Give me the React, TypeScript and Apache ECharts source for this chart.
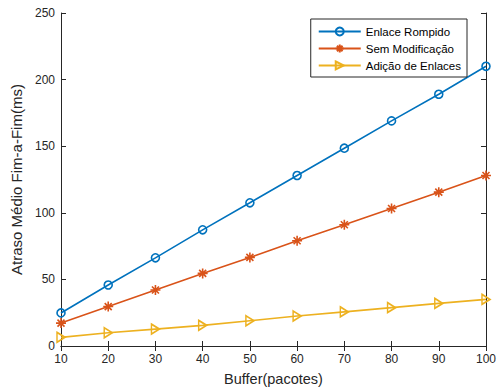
import React, { useEffect, useRef } from "react";
import * as echarts from "echarts";

const buffers = [10, 20, 30, 40, 50, 60, 70, 80, 90, 100];
const enlaceRompido = [24.8, 45.8, 66.2, 87.2, 107.5, 128, 148.5, 169, 189, 210];
const semModificacao = [17.2, 29.6, 42, 54.5, 66.5, 79, 91, 103.2, 115.5, 128];
const adicaoEnlaces = [6.5, 10, 12.7, 15.5, 19, 22.5, 25.6, 28.8, 32, 35];
const seriesNames = ["Enlace Rompido", "Sem Modificação", "Adição de Enlaces"];
const colors = ["#0072BD", "#D95319", "#EDB120"];

const FONT = "Liberation Sans";
const AXIS_COLOR = "#262626";

export default function App() {
  const ref = useRef<HTMLDivElement>(null);
  useEffect(() => {
    if (!ref.current) return;
    const chart = echarts.init(ref.current, undefined, { renderer: "svg" });
    const mkData = (arr: number[]) => buffers.map((b, i) => [b, arr[i]]);
    const asterisk =
      "path://M5,0 L5,10 M0,5 L10,5 M1.5,1.5 L8.5,8.5 M1.5,8.5 L8.5,1.5";
    const triangle = "path://M0,0 L8,5 L0,10 Z";
    const symbols = ["circle", asterisk, triangle];
    const sizes = [8, 10, [8, 10]];
    const datasets = [enlaceRompido, semModificacao, adicaoEnlaces];
    const tickCommon = {
      show: true,
      inside: true,
      length: 5,
      lineStyle: { color: AXIS_COLOR, width: 1 },
    };
    const axisLineCommon = { show: true, lineStyle: { color: AXIS_COLOR, width: 1 } };
    chart.setOption({
      animation: false,
      textStyle: { fontFamily: FONT },
      grid: { left: 61, right: 13, top: 13, bottom: 43, containLabel: false },
      legend: {
        data: seriesNames,
        right: 32,
        top: 19,
        orient: "vertical",
        itemWidth: 42,
        itemHeight: 10,
        itemGap: 4,
        padding: [6, 6, 5, 7],
        borderColor: AXIS_COLOR,
        borderWidth: 1,
        backgroundColor: "#fff",
        textStyle: { fontFamily: FONT, fontSize: 11.5, color: "#000" },
      },
      xAxis: [
        {
          type: "value",
          min: 10,
          max: 100,
          interval: 10,
          name: "Buffer(pacotes)",
          nameLocation: "middle",
          nameGap: 25,
          nameTextStyle: { fontFamily: FONT, fontSize: 14.5, color: AXIS_COLOR },
          axisLine: axisLineCommon,
          axisTick: tickCommon,
          axisLabel: { fontFamily: FONT, fontSize: 12, color: AXIS_COLOR, margin: 7 },
          splitLine: { show: false },
        },
        {
          type: "value",
          position: "top",
          min: 10,
          max: 100,
          interval: 10,
          axisLine: axisLineCommon,
          axisTick: tickCommon,
          axisLabel: { show: false },
          splitLine: { show: false },
        },
      ],
      yAxis: [
        {
          type: "value",
          min: 0,
          max: 250,
          interval: 50,
          name: "Atraso Médio Fim-a-Fim(ms)",
          nameLocation: "middle",
          nameGap: 31,
          nameTextStyle: { fontFamily: FONT, fontSize: 15, color: AXIS_COLOR },
          axisLine: axisLineCommon,
          axisTick: tickCommon,
          axisLabel: { fontFamily: FONT, fontSize: 12, color: AXIS_COLOR, margin: 6 },
          splitLine: { show: false },
        },
        {
          type: "value",
          position: "right",
          min: 0,
          max: 250,
          interval: 50,
          axisLine: axisLineCommon,
          axisTick: tickCommon,
          axisLabel: { show: false },
          splitLine: { show: false },
        },
      ],
      series: datasets.map((arr, i) => ({
        name: seriesNames[i],
        type: "line",
        xAxisIndex: 0,
        yAxisIndex: 0,
        data: mkData(arr),
        symbol: symbols[i],
        symbolSize: sizes[i],
        showAllSymbol: true,
        lineStyle: { color: colors[i], width: 1.6 },
        itemStyle: {
          color: "none",
          borderColor: colors[i],
          borderWidth: 1.6,
        },
        emphasis: { disabled: true },
        z: 3 - i,
      })),
    });
    return () => chart.dispose();
  }, []);
  return (
    <div
      ref={ref}
      style={{ width: 499, height: 391, position: "absolute", left: 0, top: 0, background: "#fff" }}
    />
  );
}
